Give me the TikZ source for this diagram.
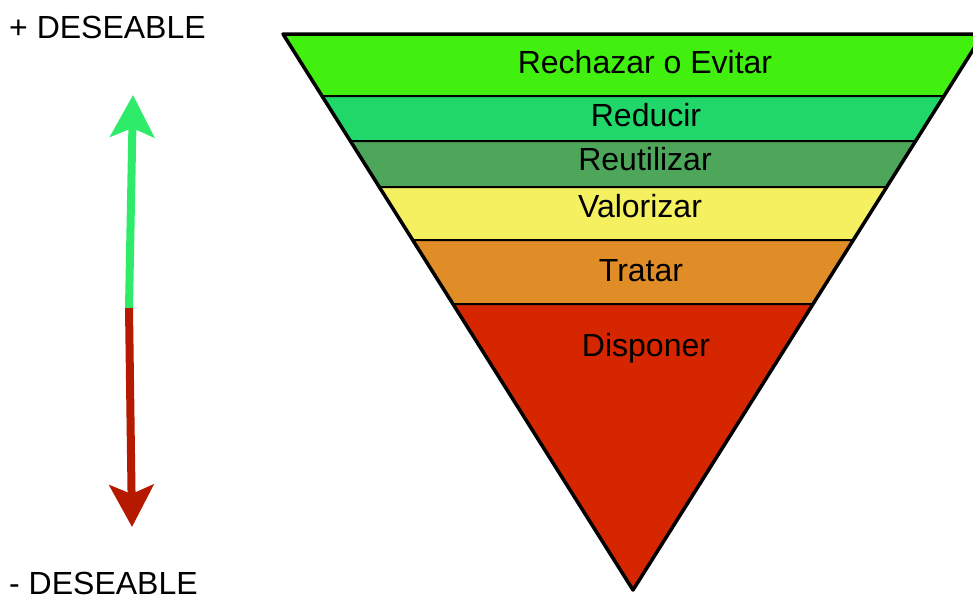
\documentclass[tikz,border=0pt]{standalone}
\usepackage{fontspec}
\setmainfont{Liberation Sans}
\usetikzlibrary{arrows.meta}
\definecolor{rechcol}{HTML}{42F00F}
\definecolor{reducol}{HTML}{21D76A}
\definecolor{reutcol}{HTML}{4DA65A}
\definecolor{valocol}{HTML}{F5F05F}
\definecolor{tratcol}{HTML}{E08D28}
\definecolor{dispcol}{HTML}{D52600}
\definecolor{upgreen}{HTML}{2EEB6A}
\definecolor{downred}{HTML}{B51A00}
\def\apexx{633}
\def\apexy{590}
\def\slope{0.6295}
\tikzset{
  band/.style={draw=black, line width=2pt, line join=round},
  label/.style={font=\fontsize{32}{38}\selectfont, inner sep=0pt},
  arrowshaft/.style={line width=8pt, -{Stealth[length=42pt, width=44pt, inset=9pt]}}
}

\begin{document}
\begin{tikzpicture}[x=1pt, y=-1pt]
    \useasboundingbox (0,0) rectangle (973,598);
    % bands of the pyramid, top to bottom
    \foreach \ya/\yb/\col in {34/96/rechcol, 96/141/reducol, 141/187/reutcol,
                              187/240/valocol, 240/304/tratcol, 304/590/dispcol} {
      \fill[band, fill=\col]
        ({\apexx-(\apexy-\ya)*\slope}, \ya) -- ({\apexx+(\apexy-\ya)*\slope}, \ya)
        -- ({\apexx+(\apexy-\yb)*\slope}, \yb) -- ({\apexx-(\apexy-\yb)*\slope}, \yb) -- cycle;
    }
    \draw[black, line width=3.5pt, line join=round]
      ({\apexx-(\apexy-34)*\slope}, 34) -- ({\apexx+(\apexy-34)*\slope}, 34) -- (\apexx, \apexy) -- cycle;

    \foreach \name/\tx/\ty/\txt in {rechazar/645/62/Rechazar o Evitar, reducir/646/115/Reducir,
                                    reutilizar/645/159/Reutilizar, valorizar/640/206/Valorizar,
                                    tratar/641/271/Tratar, disponer/646/348/Disponer} {
      \node[label] (\name) at (\tx, \ty) {\txt};
    }

    % scale on the left
    \node[label, anchor=west] (mas) at (9, 27) {+ DESEABLE};
    \node[label, anchor=west] (menos) at (9, 583) {- DESEABLE};
    \coordinate (mid) at (129, 308);
    \coordinate (up) at (133, 95);
    \coordinate (down) at (132, 527);
    \draw[arrowshaft, upgreen] (mid) -- (up);
    \draw[arrowshaft, downred] (mid) -- (down);
\end{tikzpicture}
\end{document}
